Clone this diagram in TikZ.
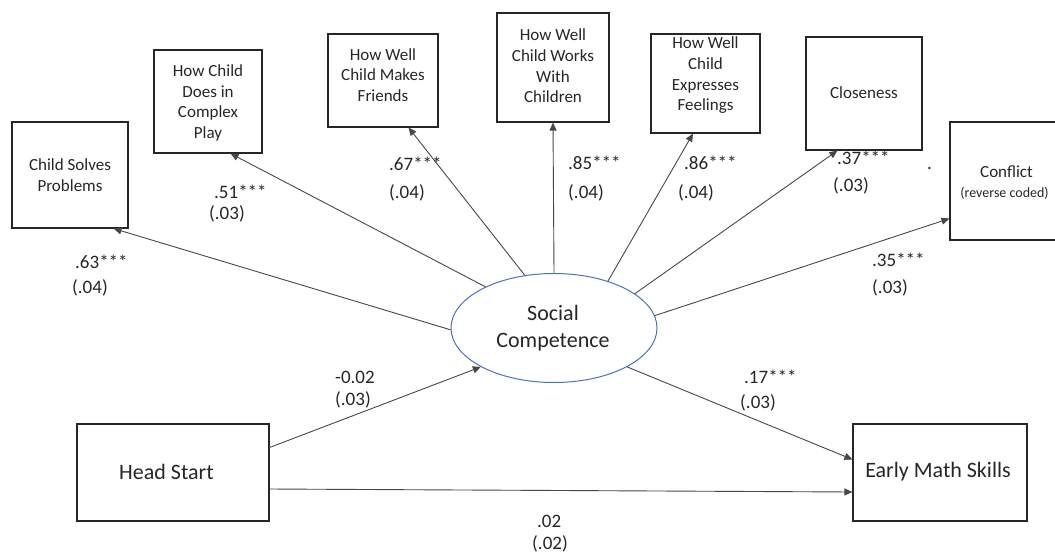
\documentclass[tikz,border=0pt]{standalone}
\usepackage{fontspec}
\setmainfont{Carlito}
\usetikzlibrary{arrows.meta,shapes.geometric}
\begin{document}
\begin{tikzpicture}[x=1pt,y=-1pt,
  box/.style={draw=black!85, line width=1.1pt, rectangle, inner sep=0pt},
  btxt/.style={font=\fontsize{17}{20.7}\selectfont, align=center, inner sep=0pt, text=black!85},
  bigtxt/.style={font=\fontsize{22}{26.8}\selectfont, align=center, inner sep=0pt, text=black!85},
  lab/.style={font=\fontsize{19}{23}\selectfont, anchor=base west, inner sep=0pt, text=black!85},
  conn/.style={draw=black!72, line width=0.9pt, -{Triangle[length=8pt,width=7pt]}},
]
\useasboundingbox (0,0) rectangle (1055,552);
\clip (0,0) rectangle (1055,552);

% indicator boxes
\node[box, minimum width=116pt, minimum height=106pt] (csp) at (70,175) {};
\node[box, minimum width=108pt, minimum height=103pt] (cpl) at (208,101.5) {};
\node[box, minimum width=110pt, minimum height=93pt] (mfr) at (383,80.5) {};
\node[box, minimum width=112pt, minimum height=109pt] (wwc) at (553,67.5) {};
\node[box, minimum width=109pt, minimum height=99pt] (efe) at (705.5,83.5) {};
\node[box, minimum width=116pt, minimum height=113pt] (clo) at (864,93.5) {};
\node[box, minimum width=112pt, minimum height=118pt] (con) at (1006,181) {};
\node[box, minimum width=192pt, minimum height=97pt] (hs) at (173,472.5) {};
\node[box, minimum width=174pt, minimum height=97pt] (ems) at (940,472.5) {};

% latent variable
\node[ellipse, draw={rgb,255:red,68;green,114;blue,196}, line width=1pt, minimum width=206pt, minimum height=109pt, inner sep=0pt] (sc) at (554,328) {};

% box texts
\node[btxt] (csp-t) at (70,175) {Child Solves\\Problems};
\node[btxt] (cpl-t) at (208,103) {How Child\\Does in\\Complex\\Play};
\node[btxt] (mfr-t) at (383,75) {How Well\\Child Makes\\Friends};
\node[btxt] (wwc-t) at (553,66) {How Well\\Child Works\\With\\Children};
\node[btxt] (efe-t) at (705.5,75.5) {How Well\\Child\\Expresses\\Feelings};
\node[btxt] (clo-t) at (864,93) {Closeness};
\node[btxt] (con-t) at (1006.5,172) {Conflict};
\node[font=\fontsize{14}{17}\selectfont, inner sep=0pt, text=black!85] (con-r) at (1004.5,193) {(reverse coded)};
\node[bigtxt] (sc-t) at (553,328) {Social\\Competence};
\node[bigtxt] (hs-t) at (166.5,472) {Head Start};
\node[bigtxt] (ems-t) at (938,472) {Early Math Skills};

% connectors
\draw[conn] (sc.181) -- ([xshift=-15pt]csp.south east);
\draw[conn] (sc.149.3) -- ([xshift=-32pt]cpl.south east);
\draw[conn] (sc.119.6) -- ([xshift=-30pt]mfr.south east);
\draw[conn] (sc.90) -- (wwc.south);
\draw[conn] (sc.41.5) -- ([xshift=-12.5pt]efe.south);
\draw[conn] (sc.23.9) -- ([xshift=32pt]clo.south west);
\draw[conn] (sc.7.1) -- ([yshift=22pt]con.south west);
\draw[conn] (sc.-28.8) -- ([yshift=13pt]ems.west);
\draw[conn] ([yshift=25pt]hs.east) -- (sc.208.7);
\draw[conn] ([yshift=-16.5pt]hs.east) -- ([yshift=-19.5pt]ems.west);

% coefficient labels
\node[lab] (l1a) at (75,268) {.63***};
\node[lab] (l1b) at (72,293) {(.04)};
\node[lab] (l2a) at (214,198) {.51***};
\node[lab] (l2b) at (209,219) {(.03)};
\node[lab] (l3a) at (389,170) {.67***};
\node[lab] (l3b) at (389,198) {(.04)};
\node[lab] (l4a) at (568,169) {.85***};
\node[lab] (l4b) at (568,198) {(.04)};
\node[lab] (l5a) at (684,169) {.86***};
\node[lab] (l5b) at (678,198) {(.04)};
\node[lab] (l6a) at (837,164) {.37***};
\node[lab] (l6b) at (833,191) {(.03)};
\node[lab] (dot) at (927,169) {.};
\node[lab] (l7a) at (872,266) {.35***};
\node[lab] (l7b) at (872,293) {(.03)};
\node[lab] (l8a) at (335,383) {-0.02};
\node[lab] (l8b) at (335,405) {(.03)};
\node[lab] (l9a) at (744,383) {.17***};
\node[lab] (l9b) at (740,408) {(.03)};
\node[lab] (l10a) at (537,527) {.02};
\node[lab] (l10b) at (532,549) {(.02)};
\end{tikzpicture}
\end{document}
